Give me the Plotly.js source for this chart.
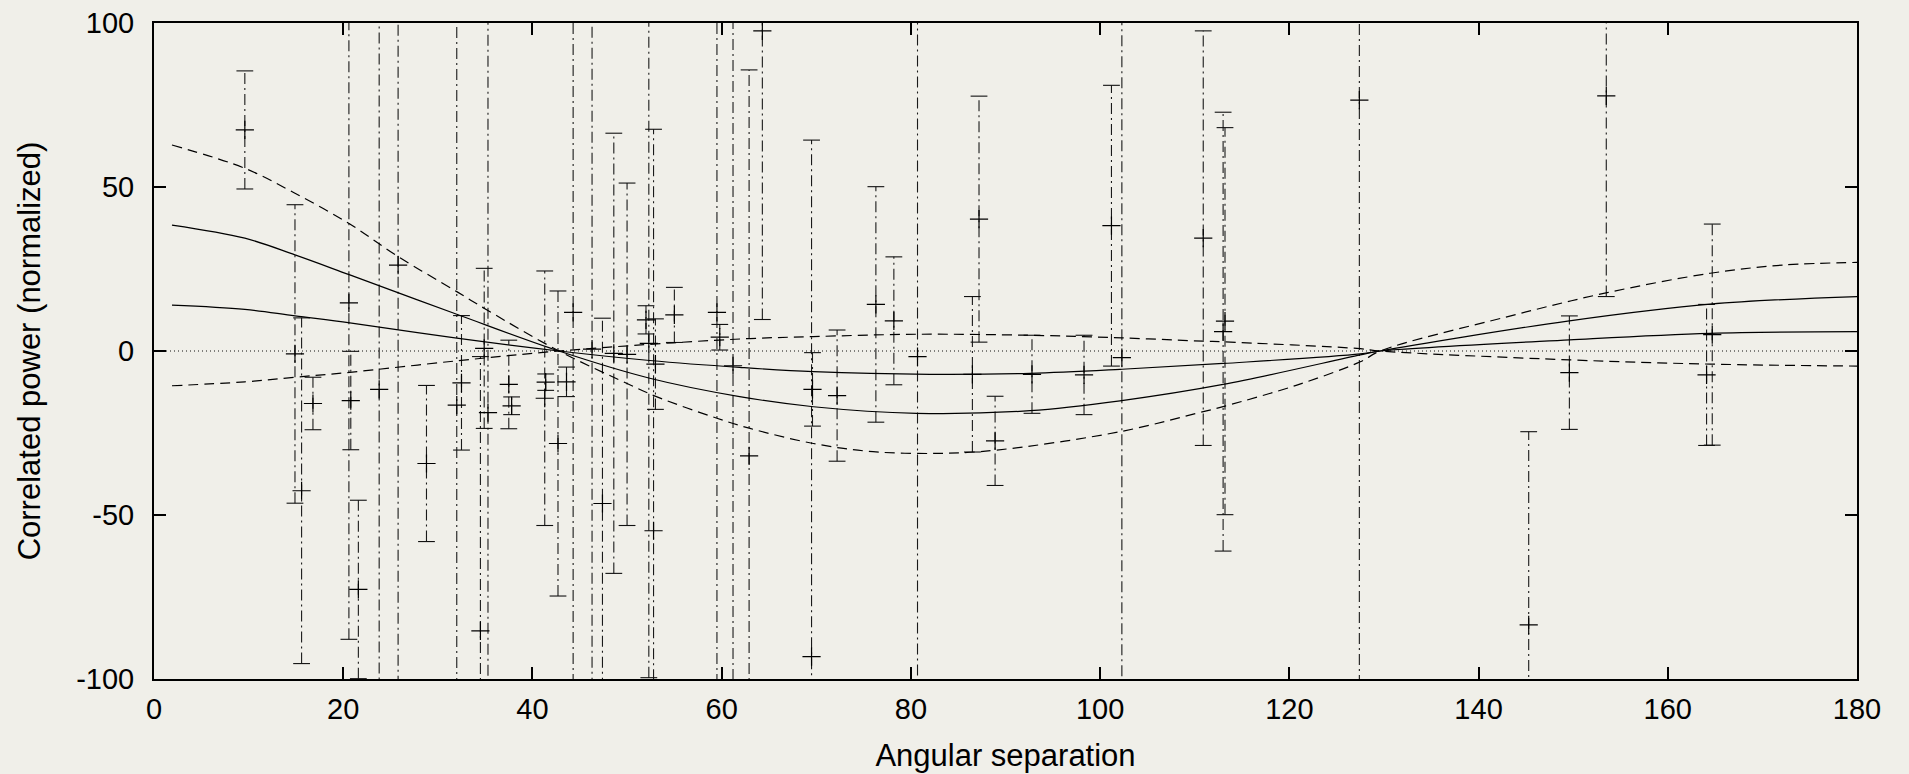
<!DOCTYPE html>
<html>
<head>
<meta charset="utf-8">
<script src="https://cdn.plot.ly/plotly-3.0.1.min.js"></script>
<style>
html,body{margin:0;padding:0;background:#f0efe9;}
#chart{width:1909px;height:774px;}
</style>
</head>
<body>
<div id="chart"></div>
<script>
// Measured points: angular separation, correlated power, error (half-length)
const ptX = [9.6,14.9,15.6,16.8,20.6,20.8,21.6,23.8,25.8,28.8,32.5,32.0,34.5,34.9,35.3,37.5,37.8,41.3,41.4,42.7,43.6,44.3,46.3,47.4,48.6,50.0,52.0,52.3,52.8,53.0,55.0,59.5,59.8,61.2,62.9,64.3,69.6,69.5,72.2,76.3,78.2,80.7,86.5,87.2,88.9,92.8,98.3,101.2,102.3,110.9,113.0,113.2,127.4,145.3,149.6,153.5,164.1,164.7];
const ptY = [67.4,-0.9,-42.6,-16.0,14.7,-15.1,-72.7,-11.7,26.2,-34.3,-9.7,-16.5,-85.3,0.8,-18.8,-10.2,-16.7,-14.4,-9.5,-28.2,-9.4,11.8,0.6,-46.5,-0.7,-1.0,9.5,2.3,-54.8,-4.0,11.0,11.8,4.2,-4.5,-32.0,97.6,-11.7,-93.2,-13.6,14.2,9.2,-1.7,-7.1,40.2,-27.4,-7.1,-7.3,38.2,-2.0,34.4,5.9,9.1,76.5,-83.5,-6.6,77.8,-7.3,5.0];
const ptErr = [18.0,45.5,52.7,8.0,102.6,15.0,27.2,125,135,23.8,20.5,125,83.6,24.4,125,13.5,2.7,38.8,2.5,46.5,4.5,120,110,56.5,67.1,52.2,4.3,101.9,122.4,13.8,8.4,120,3.9,115,117.7,88.0,11.2,157.5,20.0,35.9,19.5,110,23.7,37.5,13.6,11.9,12.1,42.8,110,63.2,66.9,59.0,185,58.9,17.3,61.2,21.5,33.7];

// Fitted curves
const solidAX = [1.9,9.6,14.9,20.7,32.0,42.8,52.4,61.9,69.7,80.6,92.6,102.1,113.0,127.5,129.6,149.6,164.5,180];
const solidAY = [38.4,34.4,29.3,23.2,11.2,0,-8.3,-13.9,-17.0,-19.0,-18.2,-15.2,-10.2,-1.2,0,9.2,14.3,16.6];
const solidBX = [1.9,9.6,14.9,20.7,32.0,42.8,52.4,61.9,69.7,82.0,92.6,102.1,113.0,127.5,129.6,149.6,164.5,180];
const solidBY = [14.0,12.7,10.7,8.6,3.9,0,-2.9,-5.0,-6.3,-7.1,-6.8,-5.6,-3.8,-0.9,0,3.4,5.4,5.9];
const dashAX = [1.9,9.6,14.9,20.7,25.8,32.0,35.2,42.8,50.0,53.1,59.5,63.0,69.7,76.0,83.1,89.1,102.1,110.9,113.2,120.8,127.5,129.6,143.1,153.6,164.5,172.2,180];
const dashAY = [62.8,55.7,48.1,38.7,28.8,18.1,12.5,0,-9.9,-13.9,-20.5,-23.6,-28.2,-30.7,-31.2,-30.2,-24.6,-18.5,-16.8,-10.4,-3.3,0,10.5,17.8,23.7,26.2,27.0];
const dashBX = [1.9,9.6,14.9,20.7,32.0,42.8,54.9,63.0,69.7,80.6,92.6,102.3,110.9,113.0,127.5,129.6,149.6,164.5,180];
const dashBY = [-10.6,-9.4,-8.0,-6.5,-3.0,0,2.5,3.8,4.4,5.1,4.8,4.0,3.0,2.8,0.7,0,-2.7,-4.0,-4.6];
const zeroX = [0,180];
const zeroY = [0,0];

const xTicks = [0,20,40,60,80,100,120,140,160,180];
const yTicks = [-100,-50,0,50,100];

// build error bar segments and caps from the data
const ebX = [], ebY = [], capX = [], capY = [];
for (let i = 0; i < ptX.length; i++) {
  ebX.push(ptX[i], ptX[i], null);
  ebY.push(ptY[i] - ptErr[i], ptY[i] + ptErr[i], null);
  capX.push(ptX[i], ptX[i]);
  capY.push(ptY[i] - ptErr[i], ptY[i] + ptErr[i]);
}

const ink = '#000000';
const traces = [
  {x: zeroX, y: zeroY, mode: 'lines', line: {color: '#111', width: 1, dash: '1px,3px'}, hoverinfo: 'skip'},
  {x: ebX, y: ebY, mode: 'lines', line: {color: '#1a1a1a', width: 1.1, dash: '11px,4px,2px,4px'}, hoverinfo: 'skip', connectgaps: false},
  {x: capX, y: capY, mode: 'markers', marker: {symbol: 'line-ew', size: 12, line: {color: '#111', width: 1.1}}, hoverinfo: 'skip'},
  {x: ptX, y: ptY, mode: 'markers', marker: {symbol: 'cross-thin', size: 13, line: {color: '#000', width: 1.2}}},
  {x: solidAX, y: solidAY, mode: 'lines', line: {color: ink, width: 1.2, shape: 'spline', smoothing: 1}},
  {x: solidBX, y: solidBY, mode: 'lines', line: {color: ink, width: 1.2, shape: 'spline', smoothing: 1}},
  {x: dashAX, y: dashAY, mode: 'lines', line: {color: '#000', width: 1.2, dash: '10px,6px', shape: 'spline', smoothing: 1}},
  {x: dashBX, y: dashBY, mode: 'lines', line: {color: '#000', width: 1.2, dash: '10px,6px', shape: 'spline', smoothing: 1}}
];

const fontFam = '"Liberation Sans", Arial, Helvetica, sans-serif';
const layout = {
  width: 1909, height: 774,
  margin: {l: 154, r: 52, t: 23, b: 95, pad: 0},
  paper_bgcolor: '#f0efe9', plot_bgcolor: '#f0efe9',
  showlegend: false,
  font: {family: fontFam, size: 29, color: '#000'},
  xaxis: {
    range: [0, 180], tickvals: xTicks, ticktext: xTicks.map(String),
    ticks: 'inside', ticklen: 12, tickwidth: 2, tickcolor: '#000',
    showline: true, linewidth: 2, linecolor: '#000', mirror: 'ticks',
    showgrid: false, zeroline: false, ticklabelstandoff: 3,
    tickfont: {family: fontFam, size: 29, color: '#000'},
    title: {text: 'Angular separation', font: {family: fontFam, size: 31, color: '#000'}, standoff: 21}
  },
  yaxis: {
    range: [-100, 100], tickvals: yTicks, ticktext: yTicks.map(String),
    ticks: 'inside', ticklen: 12, tickwidth: 2, tickcolor: '#000',
    showline: true, linewidth: 2, linecolor: '#000', mirror: 'ticks',
    showgrid: false, zeroline: false, ticklabelstandoff: 12,
    tickfont: {family: fontFam, size: 29, color: '#000'},
    title: {text: 'Correlated power (normalized)', font: {family: fontFam, size: 31, color: '#000'}, standoff: 26}
  }
};

Plotly.newPlot('chart', traces, layout, {staticPlot: true, displayModeBar: false});
</script>
</body>
</html>
